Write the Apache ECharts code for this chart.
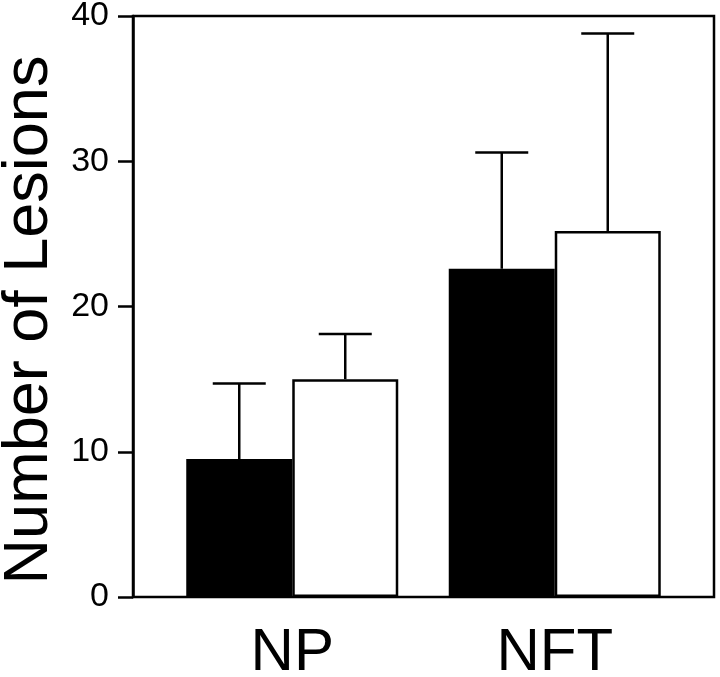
<!DOCTYPE html>
<html>
<head>
<meta charset="utf-8">
<script src="https://cdn.jsdelivr.net/npm/echarts@6/dist/echarts.min.js"></script>
<style>
html,body{margin:0;padding:0;background:#fff;}
#main{width:720px;height:677px;}
</style>
</head>
<body>
<div id="main"></div>
<script>
// ---- data ----
const categories = ['NP', 'NFT'];
const blackMeans = [9.5, 22.6];
const blackErrors = [5.2, 8.0];
const whiteMeans = [15.0, 25.2];
const whiteErrors = [3.1, 13.6];
const yTicks = [0, 10, 20, 30, 40];
const yTitle = 'Number of Lesions';

// ---- chart ----
const FONT = 'Liberation Sans, Arial, Helvetica, sans-serif';
const BAR_W = 106;
const CAP_W = 53;

const chart = echarts.init(document.getElementById('main'), null, {renderer: 'canvas'});

function errorRenderer(offset) {
  return function (params, api) {
    const cat = api.value(0);
    const val = api.value(1);
    const err = api.value(2);
    const p0 = api.coord([cat, val]);
    const p1 = api.coord([cat, val + err]);
    const x = p0[0] + offset;
    const style = {stroke: '#000', lineWidth: 2.5, fill: null};
    return {
      type: 'group',
      children: [
        {type: 'line', shape: {x1: x, y1: p0[1], x2: x, y2: p1[1]}, style: style},
        {type: 'line', shape: {x1: x - CAP_W / 2, y1: p1[1], x2: x + CAP_W / 2, y2: p1[1]}, style: style}
      ]
    };
  };
}

function errData(means, errs) {
  return means.map((m, i) => [i, m, errs[i]]);
}

const option = {
  backgroundColor: '#fff',
  animation: false,
  textStyle: {fontFamily: FONT, color: '#000'},
  grid: [
    {left: 133, right: 6, top: 16, bottom: 80, show: true, borderColor: '#000', borderWidth: 2.5, backgroundColor: 'transparent', containLabel: false, outerBoundsMode: 'none'},
    {left: 161, right: 34, top: 16, bottom: 80, containLabel: false, outerBoundsMode: 'none'}
  ],
  xAxis: [
    {gridIndex: 0, type: 'category', data: categories, show: false},
    {
      gridIndex: 1, type: 'category', data: categories,
      axisLine: {show: false}, axisTick: {show: false}, splitLine: {show: false},
      axisLabel: {fontSize: 60, color: '#000', fontFamily: FONT, margin: 26}
    }
  ],
  yAxis: [
    {
      gridIndex: 0, type: 'value', min: yTicks[0], max: yTicks[yTicks.length - 1], interval: 10,
      axisLine: {show: true, lineStyle: {color: '#000', width: 2.5}},
      axisTick: {show: true, length: 15, lineStyle: {color: '#000', width: 2.5}},
      splitLine: {show: false},
      axisLabel: {fontSize: 34, color: '#000', fontFamily: FONT, margin: 24}
    },
    {gridIndex: 1, type: 'value', min: yTicks[0], max: yTicks[yTicks.length - 1], show: false, splitLine: {show: false}}
  ],
  series: [
    {
      type: 'bar', xAxisIndex: 1, yAxisIndex: 1, data: blackMeans,
      barWidth: BAR_W, barGap: '0%',
      itemStyle: {color: '#000', borderColor: '#000', borderWidth: 2}
    },
    {
      type: 'bar', xAxisIndex: 1, yAxisIndex: 1, data: whiteMeans,
      barWidth: BAR_W, barGap: '0%',
      itemStyle: {color: '#fff', borderColor: '#000', borderWidth: 2.5}
    },
    {
      type: 'custom', xAxisIndex: 1, yAxisIndex: 1, z: 5,
      renderItem: errorRenderer(-BAR_W / 2),
      encode: {x: 0, y: 1},
      data: errData(blackMeans, blackErrors)
    },
    {
      type: 'custom', xAxisIndex: 1, yAxisIndex: 1, z: 5,
      renderItem: errorRenderer(BAR_W / 2),
      encode: {x: 0, y: 1},
      data: errData(whiteMeans, whiteErrors)
    }
  ],
  graphic: [
    {
      type: 'text', x: 30, y: 320, rotation: Math.PI / 2,
      style: {text: yTitle, fontSize: 63, fontFamily: FONT, fill: '#000', align: 'center', verticalAlign: 'middle'}
    }
  ]
};
chart.setOption(option);
</script>
</body>
</html>
